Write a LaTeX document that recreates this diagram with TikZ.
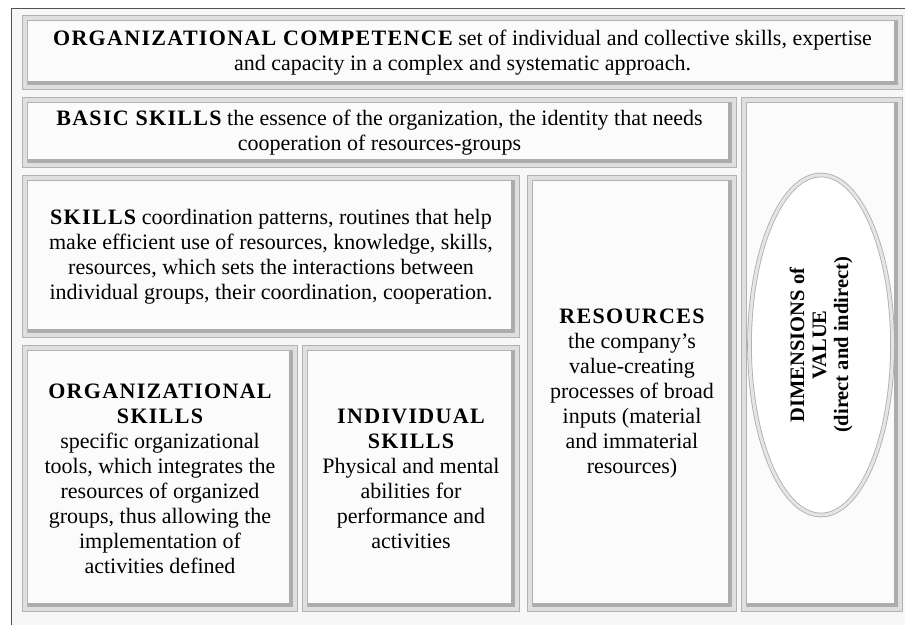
\documentclass[tikz,border=0pt]{standalone}
\usepackage{fontspec}
\setmainfont{Liberation Serif}
\usetikzlibrary{shapes.geometric}

% spaced bold caps for the headings
\newcommand\hd[1]{{\bfseries\addfontfeature{LetterSpace=6}#1}}

\tikzset{
  panel/.style={draw=gray!60, line width=0.8pt, double=gray!25, double distance=4pt,
    fill=gray!3, align=center, inner sep=0pt,
    font=\fontsize{22}{25}\selectfont},
  bevel/.style={draw=gray!65, line width=3.5pt},
  oval/.style={ellipse, draw=gray!65, line width=0.8pt, double=gray!20, double distance=3pt,
    fill=white, align=center, inner sep=0pt,
    font=\bfseries\fontsize{20.5}{22}\selectfont}
}

\begin{document}
\begin{tikzpicture}[x=1pt, y=-1pt]
  \useasboundingbox (0,0) rectangle (905,624);
  \clip (0,0) rectangle (905,624);
  \draw[gray!65!black, fill=gray!6] (11,8) rectangle (920,640);

  % top rows
  \node[panel, minimum width=875pt, minimum height=69pt] (comp) at (462.5,52.5)
    {\hd{ORGANIZATIONAL COMPETENCE} set of individual and collective skills, expertise\\
     and capacity in a complex and systematic approach.};
  \node[panel, minimum width=709pt, minimum height=65pt] (basic) at (379.5,132.5)
    {\hd{BASIC SKILLS} the essence of the organization, the identity that needs\\
     cooperation of resources-groups};

  % middle and bottom
  \node[panel, minimum width=492pt, minimum height=157pt] (skills) at (271,256.5)
    {\hd{SKILLS} coordination patterns, routines that help\\
     make efficient use of resources, knowledge, skills,\\
     resources, which sets the interactions between\\
     individual groups, their coordination, cooperation.};
  \node[panel, minimum width=204pt, minimum height=431pt] (res) at (632,393.5)
    {\hd{RESOURCES}\\ the company's\\ value-creating\\ processes of broad\\
     inputs (material\\ and immaterial\\ resources)};
  \node[panel, minimum width=270pt, minimum height=261pt] (orgsk) at (160,478.5)
    {\hd{ORGANIZATIONAL}\\ \hd{SKILLS}\\ specific organizational\\
     tools, which integrates the\\ resources of organized\\
     groups, thus allowing the\\ implementation of\\ activities defined};
  \node[panel, minimum width=212pt, minimum height=261pt] (indsk) at (411,478.5)
    {\hd{INDIVIDUAL}\\ \hd{SKILLS}\\ Physical and mental\\ abilities for\\
     performance and\\ activities};

  % value column
  \node[panel, minimum width=156pt, minimum height=509pt] (dimcol) at (822,354.5) {};

  % darker inner edge on the right and bottom
  \foreach \name in {comp, basic, skills, res, orgsk, indsk, dimcol}
    \draw[bevel] ([shift={(-4.5pt,-3pt)}]\name.north east)
      -- ([shift={(-4.5pt,4.5pt)}]\name.south east)
      -- ([shift={(3pt,4.5pt)}]\name.south west);

  \node[oval, rotate=90, minimum width=340pt, minimum height=143pt] (dim) at (821,345)
    {DIMENSIONS of\\ VALUE\\ (direct and indirect)};
\end{tikzpicture}
\end{document}
